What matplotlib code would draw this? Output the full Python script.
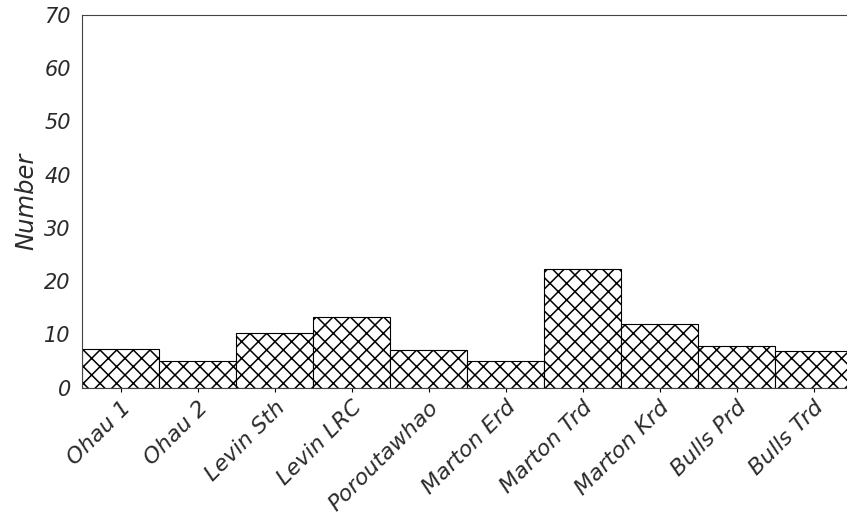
import matplotlib.pyplot as plt

# Counts per site
sites = ['Ohau 1', 'Ohau 2', 'Levin Sth', 'Levin LRC', 'Poroutawhao',
         'Marton Erd', 'Marton Trd', 'Marton Krd', 'Bulls Prd', 'Bulls Trd']
counts = [7.2, 5.0, 10.2, 13.2, 7.1, 5.0, 22.2, 11.9, 7.8, 6.9]
yticks = [0, 10, 20, 30, 40, 50, 60, 70]

dpi = 100
plt.rcParams['font.family'] = ['DejaVu Sans']
plt.rcParams['hatch.linewidth'] = 1.1
plt.rcParams['hatch.color'] = 'black'

fig = plt.figure(figsize=(847 / dpi, 529 / dpi), dpi=dpi)
ax = fig.add_axes([82 / 847, 1 - 387.5 / 529, 770 / 847, 372.5 / 529])

x = range(len(sites))
ax.bar(x, counts, width=1.0, color='white', edgecolor='black',
       linewidth=0.8, hatch='xx')

ax.set_xlim(-0.5, len(sites) - 0.5)
ax.set_ylim(0, 70)
ax.set_yticks(yticks)
ax.set_yticklabels([str(v) for v in yticks], fontstyle='italic',
                   fontsize=15, color='#2a2a2a')
ax.set_xticks(list(x))
ax.set_xticklabels(sites, rotation=45, ha='right', rotation_mode='anchor',
                   fontstyle='italic', fontsize=16, color='#2a2a2a')
ax.tick_params(axis='y', length=0, pad=8)
ax.tick_params(axis='x', length=3, width=0.8, pad=4)

ax.set_ylabel('Number', fontstyle='italic', fontsize=17.5, color='#2a2a2a',
              labelpad=4)

for side in ['top', 'left', 'bottom']:
    ax.spines[side].set_linewidth(0.8)
    ax.spines[side].set_color('#444444')
ax.spines['right'].set_visible(False)

fig.savefig('out.png', dpi=dpi)
